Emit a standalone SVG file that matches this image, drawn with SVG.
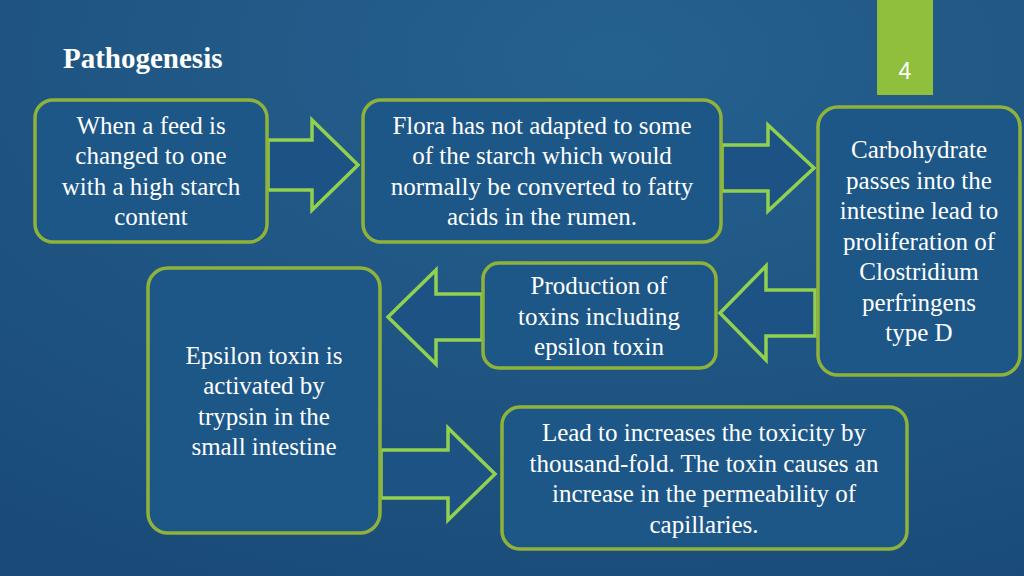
<svg xmlns="http://www.w3.org/2000/svg" width="1024" height="576" viewBox="0 0 1024 576">
<defs>
<radialGradient id="bg" cx="0.6" cy="0.1" r="1">
<stop offset="0" stop-color="#25618f"/><stop offset="1" stop-color="#1a4b78"/>
</radialGradient>
<style>
.box{fill:#1d5788;stroke:#8fb33a;stroke-width:3.5}
.arr{fill:#1c5384;stroke:#92d050;stroke-width:3.5;stroke-linejoin:miter}
text{font-family:"Liberation Serif",serif;fill:#fff;font-size:25px;text-anchor:middle}
</style>
</defs>
<rect width="1024" height="576" fill="url(#bg)"/>
<text x="63" y="68" style="text-anchor:start;font-weight:bold;font-size:29px">Pathogenesis</text>
<rect x="877" y="0" width="56" height="95" fill="#8fbf3c"/>
<text x="905" y="79" style="font-family:'Liberation Sans',sans-serif;font-size:23px">4</text>
<g id="connectors">
<path class="arr" d="M268 140H312V120L358 165L312 210V190H268Z"/>
<path class="arr" d="M722 145H768V125L814 168L768 211V191H722Z"/>
<path class="arr" d="M815 290H766V266L720 313L766 360V336H815Z"/>
<path class="arr" d="M482 294H436V270L388 317L436 364V340H482Z"/>
<path class="arr" d="M381 450H448V428L495 474L448 520V498H381Z"/>
</g>
<g id="n1"><rect class="box" x="35" y="100" width="232" height="142" rx="18"/>
<text x="151" y="134">When a feed is</text><text x="151" y="164">changed to one</text><text x="151" y="195">with a high starch</text><text x="151" y="225">content</text></g>
<g id="n2"><rect class="box" x="363" y="100" width="358" height="142" rx="18"/>
<text x="542" y="134">Flora has not adapted to some</text><text x="542" y="164">of the starch which would</text><text x="542" y="195">normally be converted to fatty</text><text x="542" y="225">acids in the rumen.</text></g>
<g id="n3"><rect class="box" x="818" y="107" width="202" height="268" rx="20"/>
<text x="919" y="158">Carbohydrate</text><text x="919" y="189">passes into the</text><text x="919" y="219">intestine lead to</text><text x="919" y="250">proliferation of</text><text x="919" y="280">Clostridium</text><text x="919" y="311">perfringens</text><text x="919" y="341">type D</text></g>
<g id="n4"><rect class="box" x="483" y="263" width="233" height="105" rx="16"/>
<text x="599" y="294">Production of</text><text x="599" y="325">toxins including</text><text x="599" y="355">epsilon toxin</text></g>
<g id="n5"><rect class="box" x="148" y="268" width="232" height="265" rx="20"/>
<text x="264" y="364">Epsilon toxin is</text><text x="264" y="394">activated by</text><text x="264" y="425">trypsin in the</text><text x="264" y="455">small intestine</text></g>
<g id="n6"><rect class="box" x="502" y="407" width="405" height="142" rx="18"/>
<text x="704" y="441">Lead to increases the toxicity by</text><text x="704" y="472">thousand-fold. The toxin causes an</text><text x="704" y="502">increase in the permeability of</text><text x="704" y="533">capillaries.</text></g>
</svg>
